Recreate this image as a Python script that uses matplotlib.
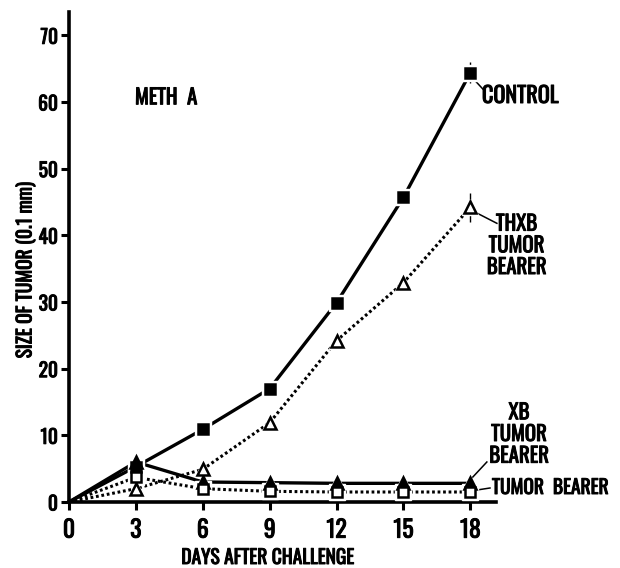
import matplotlib.pyplot as plt
import matplotlib.patheffects as pe
from matplotlib.text import Text

days = [0, 3, 6, 9, 12, 15, 18]
control = [0, 5.3, 10.9, 17.0, 29.9, 45.7, 64.4]
thxb = [0, 2.0, 4.9, 11.9, 24.2, 32.9, 44.2]
xb = [0, 6.0, 3.0, 2.9, 2.8, 2.8, 2.8]
bearer = [0, 3.7, 2.0, 1.6, 1.5, 1.5, 1.5]
# error bar half-widths at day 18
control_err = 1.6
thxb_err = 2.2

plt.rcParams['font.family'] = ['Oswald', 'Roboto Condensed', 'Archivo Narrow', 'DejaVu Sans']
plt.rcParams['font.weight'] = 'bold'
plt.rcParams['axes.labelweight'] = 'bold'

fig = plt.figure(figsize=(6.2, 5.68), dpi=100)
ax = fig.add_axes([0.1113, 0.1162, 0.6887, 0.8627])

dots = (0, (0.9, 0.9))
series = [
    (control, '-', 2.4, 's', 7.2, 'black'),
    (xb, '-', 2.4, '^', 8, 'black'),
    (thxb, dots, 2.2, '^', 8, 'white'),
    (bearer, dots, 2.2, 's', 7.2, 'white'),
]
for vals, ls, lw, m, ms, fc in series:
    ax.plot(days, vals, linestyle=ls, color='black', lw=lw, zorder=2)
    # white halo leaves a small gap between the line and the marker
    ax.plot(days[1:], vals[1:], linestyle='none', marker=m, ms=ms + 4,
            mfc='white', mec='white', zorder=3)
    ax.plot(days[1:], vals[1:], linestyle='none', marker=m, ms=ms,
            mfc=fc, mec='black', mew=1.8, zorder=4)

for y, e in [(control[-1], control_err), (thxb[-1], thxb_err)]:
    ax.errorbar([18], [y], yerr=[e], fmt='none', ecolor='black', elinewidth=1, zorder=1)

ax.set_xlim(0, 19.15)
ax.set_ylim(0, 73.5)
ax.set_xticks(days)
ax.set_yticks(range(0, 80, 10))
for s in ['top', 'right']:
    ax.spines[s].set_visible(False)
for s in ['left', 'bottom']:
    ax.spines[s].set_linewidth(2.6)
ax.tick_params(axis='both', width=2.2, length=6)
ax.tick_params(axis='x', labelsize=17, pad=6)
ax.tick_params(axis='y', labelsize=14, pad=2)

fig.text(268 / 620, 1 - 557 / 568, 'DAYS AFTER CHALLENGE', fontsize=14,
         ha='center', va='center')
fig.text(25 / 620, 1 - 270 / 568, 'SIZE OF TUMOR (0.1 mm)', fontsize=14,
         rotation=90, ha='center', va='center')

ax.text(2.96, 60.7, 'METH  A', fontsize=15, va='center')

# leader lines from the last points out to the labels
leaders = [
    ([18.1, 18.6], [63.6, 61.8]),
    ([18.2, 19.19], [43.5, 41.8]),
    ([18.07, 18.74], [3.6, 6.0]),
    ([18.3, 18.88], [1.8, 2.1]),
]
for lx, ly in leaders:
    ax.plot(lx, ly, color='black', lw=1.1, clip_on=False)

ax.text(18.52, 60.9, 'CONTROL', fontsize=16, va='center')
ax.text(20.07, 38.5, 'THXB\nTUMOR\nBEARER', fontsize=15, ha='center', va='center',
        linespacing=1.1)
ax.text(20.18, 10.2, 'XB\nTUMOR\nBEARER', fontsize=15, ha='center', va='center',
        linespacing=1.1)
ax.text(18.97, 2.25, 'TUMOR  BEARER', fontsize=14, va='center')

# thicken the lettering
for t in fig.findobj(Text):
    t.set_path_effects([pe.withStroke(linewidth=0.7, foreground='black')])

fig.savefig('out.png', dpi=100)
